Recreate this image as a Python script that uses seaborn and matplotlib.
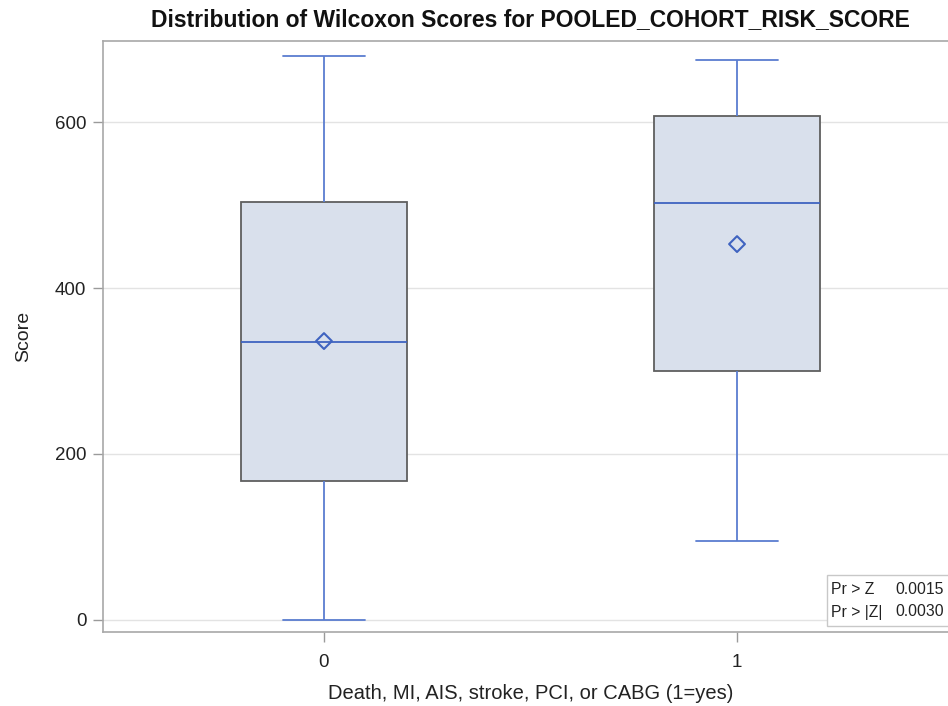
import numpy as np
import pandas as pd
import seaborn as sns
import matplotlib
matplotlib.use("Agg")
import matplotlib.pyplot as plt
from matplotlib.patches import Rectangle

# ---- data ----
groups = ["0", "1"]
score_min = [0, 95]
score_q1 = [167, 300]
score_median = [335, 502]
score_q3 = [504, 607]
score_max = [680, 675]
score_mean = [336, 453]
stat_labels = ["Pr > Z", "Pr > |Z|"]
stat_values = ["0.0015", "0.0030"]
title = "Distribution of Wilcoxon Scores for POOLED_COHORT_RISK_SCORE"
xlabel = "Death, MI, AIS, stroke, PCI, or CABG (1=yes)"
ylabel = "Score"
yticks = [0, 200, 400, 600]

# five-number summaries expressed as data so seaborn computes the boxes
rows = []
for g, a, b, c, d, e in zip(groups, score_min, score_q1, score_median, score_q3, score_max):
    for v in (a, b, c, d, e):
        rows.append({"group": g, "score": v})
df = pd.DataFrame(rows)
means = pd.DataFrame({"group": groups, "score": score_mean})

sns.set_theme(style="white")
plt.rcParams["font.family"] = ["Liberation Sans", "DejaVu Sans"]

W, H = 948, 706
fig = plt.figure(figsize=(W / 100, H / 100), dpi=100)
L, R, T, B = 103, 958, 41, 632
ax = fig.add_axes([L / W, 1 - B / H, (R - L) / W, (B - T) / H])

box_fill = "#D9E0EC"
box_edge = "#5F5F5F"
line_blue = "#5A7DD0"
med_blue = "#3F63C0"

sns.boxplot(data=df, x="group", y="score", order=groups, whis=(0, 100),
            width=0.4, color=box_fill, ax=ax, showfliers=False,
            boxprops=dict(facecolor=box_fill, edgecolor=box_edge, linewidth=1.3),
            whiskerprops=dict(color=line_blue, linewidth=1.3),
            capprops=dict(color=line_blue, linewidth=1.3),
            medianprops=dict(color=med_blue, linewidth=1.3), zorder=3)

sns.scatterplot(data=means, x="group", y="score", marker="D", s=65,
                facecolor="none", edgecolor=med_blue, linewidth=1.5, ax=ax, zorder=5)

ax.set_xlim(-0.535, 1.535)
ax.set_ylim(-15, 698)
ax.set_yticks(yticks)
ax.set_yticklabels([str(t) for t in yticks])
ax.yaxis.grid(True, color="#E3E3E3", linewidth=1.0, zorder=0)
ax.set_axisbelow(True)

for s in ax.spines.values():
    s.set_color("#A8A8A8")
    s.set_linewidth(1.2)

ax.tick_params(axis="both", which="both", direction="out", length=7, width=1,
               color="#9A9A9A", labelsize=13.5, labelcolor="#222222",
               left=True, bottom=True)
ax.tick_params(axis="y", pad=5)
ax.tick_params(axis="x", pad=9)
ax.set_xlabel(xlabel, fontsize=14.5, color="#222222", labelpad=9)
ax.set_ylabel(ylabel, fontsize=14, color="#222222", labelpad=16)
ax.set_title(title, fontsize=16.5, fontweight="bold", color="#111111", pad=11)

# inset statistics box
bx0 = (827 - L) / (R - L)
by0 = (B - 626) / (B - T)
by1 = (B - 575) / (B - T)
ax.add_patch(Rectangle((bx0, by0), 0.99 - bx0, by1 - by0, transform=ax.transAxes,
                       facecolor="white", edgecolor="#C8C8C8", linewidth=1.0, zorder=6))
row_y = [(B - 589) / (B - T), (B - 612) / (B - T)]
for lab, val, yy in zip(stat_labels, stat_values, row_y):
    ax.text((831 - L) / (R - L), yy, lab, transform=ax.transAxes, fontsize=11.3,
            va="center", ha="left", color="#222222", zorder=7)
    ax.text((895 - L) / (R - L), yy, val, transform=ax.transAxes, fontsize=11.3,
            va="center", ha="left", color="#222222", zorder=7)

fig.savefig("out.png", dpi=100)
